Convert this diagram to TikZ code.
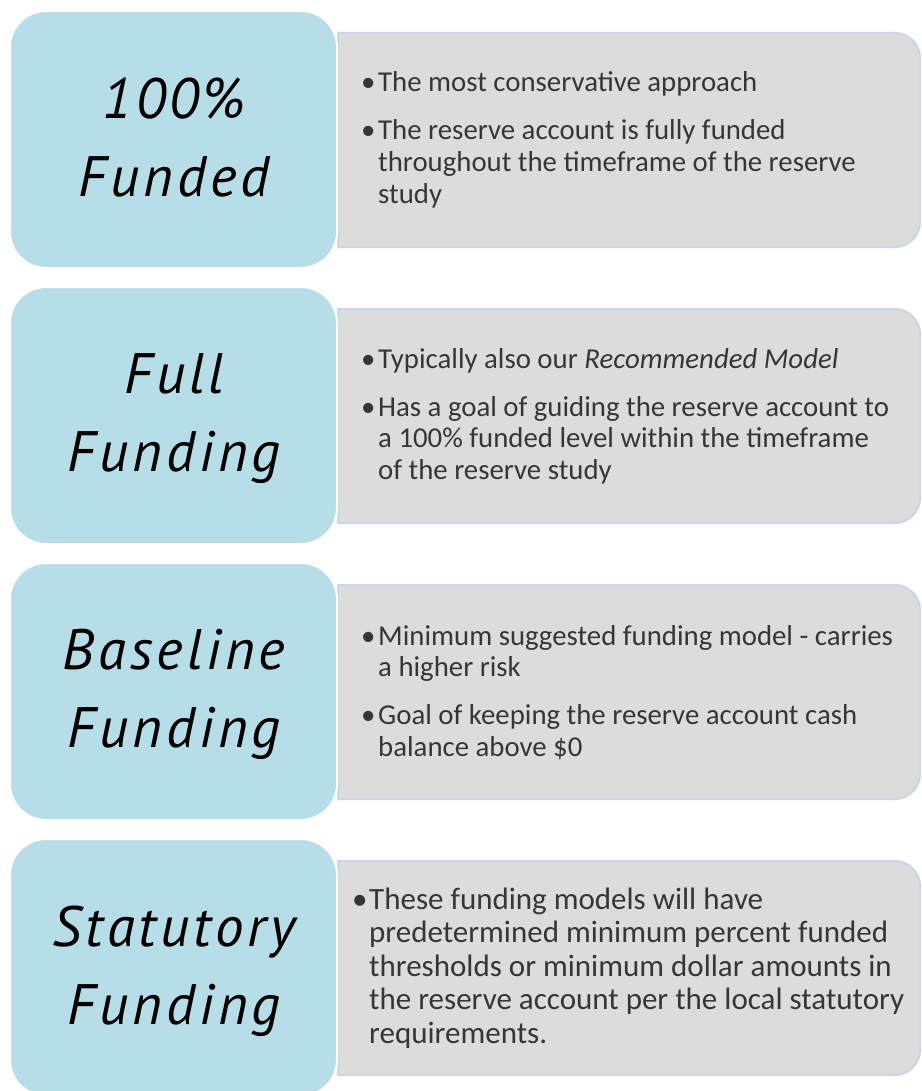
\documentclass[tikz,border=0pt]{standalone}
\usepackage{fontspec}
\setmainfont{Carlito}
\newfontfamily\handfont{PT Sans}[LetterSpace=7]

\definecolor{labelblue}{HTML}{B7DEE8}
\definecolor{panelgrey}{HTML}{DCDCDC}
\definecolor{paneledge}{HTML}{CDD6E6}
\definecolor{bodytext}{HTML}{363636}

% one bullet paragraph with a hanging indent (lines broken with \newline)
\newcommand\bpara[1]{\par\hangindent=19pt\hangafter=1\noindent\makebox[19pt][l]{\hspace{2pt}\textbullet}#1\par}
% bullet list block, first baseline at the node's base
\newcommand\bulletblock[1]{\parbox[t]{600pt}{\raggedright\setlength\parskip{16.4pt}#1}}
\newcommand\labelblock[1]{\parbox[t]{320pt}{\centering #1}}

\tikzset{
  labelbox/.style={fill=labelblue, draw=white, line width=2pt, rounded corners=36pt},
  panel/.style={fill=panelgrey, draw=paneledge, line width=2pt},
  labeltext/.style={font=\handfont\itshape\fontsize{57}{78}\selectfont, text=black,
    inner sep=0, anchor=base},
  bodyA/.style={font=\fontsize{28.8}{31.6}\selectfont, text=bodytext, inner sep=0, anchor=base west},
  bodyB/.style={font=\fontsize{31}{33.5}\selectfont, text=bodytext, inner sep=0, anchor=base west},
}

\begin{document}
\begin{tikzpicture}[x=1pt,y=-1pt]
\useasboundingbox[fill=white] (0,0) rectangle (921,1091);

% ---- row 1 ----
\draw[panel] (338,33) [rounded corners=25pt] -- (920,33) -- (920,247) [sharp corners] -- (338,247) -- cycle;
\draw[labelbox] (10,11) rectangle (337,268);
\node[labeltext] (l1) at (174,119) {\labelblock{100\%\\Funded}};
\node[bodyA] (t1) at (359,92) {\bulletblock{%
  \bpara{The most conservative approach}%
  \bpara{The reserve account is fully funded\newline throughout the timeframe of the reserve\newline study}}};

% ---- row 2 ----
\draw[panel] (338,309) [rounded corners=25pt] -- (920,309) -- (920,523) [sharp corners] -- (338,523) -- cycle;
\draw[labelbox] (10,287) rectangle (337,544);
\node[labeltext] (l2) at (174,393) {\labelblock{Full\\Funding}};
\node[bodyA] (t2) at (359,368) {\bulletblock{%
  \bpara{Typically also our \textit{Recommended Model}}%
  \bpara{Has a goal of guiding the reserve account to\newline a 100\% funded level within the timeframe\newline of the reserve study}}};

% ---- row 3 ----
\draw[panel] (338,585) [rounded corners=25pt] -- (920,585) -- (920,799) [sharp corners] -- (338,799) -- cycle;
\draw[labelbox] (10,563) rectangle (337,820);
\node[labeltext] (l3) at (174,669) {\labelblock{Baseline\\Funding}};
\node[bodyA] (t3) at (359,645) {\bulletblock{%
  \bpara{Minimum suggested funding model - carries\newline a higher risk}%
  \bpara{Goal of keeping the reserve account cash\newline balance above \$0}}};

% ---- row 4 ----
\draw[panel] (338,861) [rounded corners=25pt] -- (920,861) -- (920,1075) [sharp corners] -- (338,1075) -- cycle;
\draw[labelbox] (10,839) rectangle (337,1096);
\node[labeltext] (l4) at (174,946) {\labelblock{Statutory\\Funding}};
\node[bodyB] (t4) at (350,909) {\bulletblock{%
  \bpara{These funding models will have\newline predetermined minimum percent funded\newline thresholds or minimum dollar amounts in\newline the reserve account per the local statutory\newline requirements.}}};
\end{tikzpicture}
\end{document}
